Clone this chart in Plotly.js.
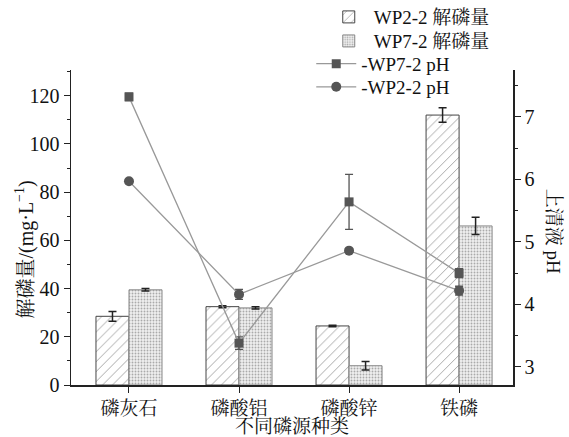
<!DOCTYPE html>
<html><head><meta charset="utf-8">
<script src="https://cdn.plot.ly/plotly-3.0.1.min.js"></script>
<style>body{margin:0;background:#fff}#c{width:569px;height:437px}</style>
</head><body><div id="c"></div>
<script>
const categories = ["磷灰石", "磷酸铝", "磷酸锌", "铁磷"];
const wp22Amount = [28.5, 32.5, 24.5, 112];
const wp22AmountErr = [2, 0.4, 0.3, 3];
const wp72Amount = [39.5, 32, 8, 66];
const wp72AmountErr = [0.5, 0.5, 1.8, 3.6];
const wp72pH = [7.32, 3.38, 5.64, 4.5];
const wp72pHErr = [0.06, 0.1, 0.44, 0.07];
const wp22pH = [5.97, 4.16, 4.86, 4.22];
const wp22pHErr = [0.0, 0.08, 0.0, 0.07];

const F = '"Liberation Serif","Times New Roman","Noto Serif CJK SC","Noto Sans CJK SC",serif';

const traces = [
  {type:'bar', name:'WP2-2 解磷量', legend:'legend', x:categories, y:wp22Amount,
   error_y:{type:'data', array:wp22AmountErr, color:'#222', thickness:1.5, width:4},
   marker:{color:'#fff', line:{color:'#444', width:1},
     pattern:{shape:'/', fgcolor:'#999', bgcolor:'#fff', size:7, solidity:0.12}}},
  {type:'bar', name:'WP7-2 解磷量', legend:'legend2', x:categories, y:wp72Amount,
   error_y:{type:'data', array:wp72AmountErr, color:'#222', thickness:1.5, width:4},
   marker:{color:'#eee', line:{color:'#888', width:1},
     pattern:{shape:'.', fgcolor:'#aaa', bgcolor:'#f0f0f0', size:3, solidity:0.3}}},
  {type:'scatter', mode:'lines+markers', name:'-WP7-2 pH', legend:'legend3', x:categories, y:wp72pH, yaxis:'y2',
   error_y:{type:'data', array:wp72pHErr, color:'#555', thickness:1.3, width:4},
   line:{color:'#999', width:1.3}, marker:{symbol:'square', size:9, color:'#555'}},
  {type:'scatter', mode:'lines+markers', name:'-WP2-2 pH', legend:'legend4', x:categories, y:wp22pH, yaxis:'y2',
   error_y:{type:'data', array:wp22pHErr, color:'#555', thickness:1.3, width:4},
   line:{color:'#999', width:1.3}, marker:{symbol:'circle', size:10, color:'#555'}}
];

function leg(x, y) {
  return {x:x, y:y, xref:'container', yref:'container', xanchor:'left', yanchor:'middle',
    bgcolor:'rgba(0,0,0,0)', font:{family:F, size:19, color:'#111'}, itemwidth:40};
}

const layout = {
  width:569, height:437,
  margin:{l:71, r:56, t:70, b:52, autoexpand:false},
  paper_bgcolor:'#fff', plot_bgcolor:'#fff',
  font:{family:F, size:19, color:'#111'},
  barmode:'group', bargap:0.4, bargroupgap:0,
  showlegend:true,
  legend:leg(0.569, 0.961),
  legend2:leg(0.569, 0.906),
  legend3:leg(0.547, 0.854),
  legend4:leg(0.547, 0.801),
  xaxis:{type:'category', range:[-0.527, 3.49], showline:true, linecolor:'#222', linewidth:1.5,
    ticks:'outside', ticklen:6, tickcolor:'#222', showgrid:false, zeroline:false,
    tickfont:{family:F, size:19},
    minor:{ticks:'outside', ticklen:3, tickcolor:'#222', dtick:0.5, tick0:0.5, showgrid:false},
    title:{text:'不同磷源种类', font:{family:F, size:19}, standoff:2}},
  yaxis:{range:[0, 130.7], dtick:20, showline:true, linecolor:'#222', linewidth:1.5,
    ticks:'outside', ticklen:6, tickcolor:'#222', showgrid:false, zeroline:false,
    tickfont:{family:F, size:20},
    minor:{ticks:'outside', ticklen:3, dtick:10, tickcolor:'#222', showgrid:false}},
  yaxis2:{overlaying:'y', side:'right', range:[2.71, 7.75], dtick:1, showline:true, linecolor:'#222', linewidth:1.5,
    ticks:'outside', ticklen:6, tickcolor:'#222', showgrid:false, zeroline:false,
    tickfont:{family:F, size:20},
    minor:{ticks:'outside', ticklen:3, dtick:0.5, tickcolor:'#222', showgrid:false}},
  annotations:[
    {text:'解磷量/(mg·L<sup>−1</sup>)', textangle:-90, xref:'paper', yref:'paper', x:0, xanchor:'center', xshift:-46, y:0.43,
      showarrow:false, font:{family:F, size:20, color:'#111'}},
    {text:'上清液 pH', textangle:90, xref:'paper', yref:'paper', x:1.0, xanchor:'center', xshift:40, y:0.49,
      showarrow:false, font:{family:F, size:19, color:'#111'}}]
};
Plotly.newPlot('c', traces, layout, {displayModeBar:false, staticPlot:true});
</script></body></html>
